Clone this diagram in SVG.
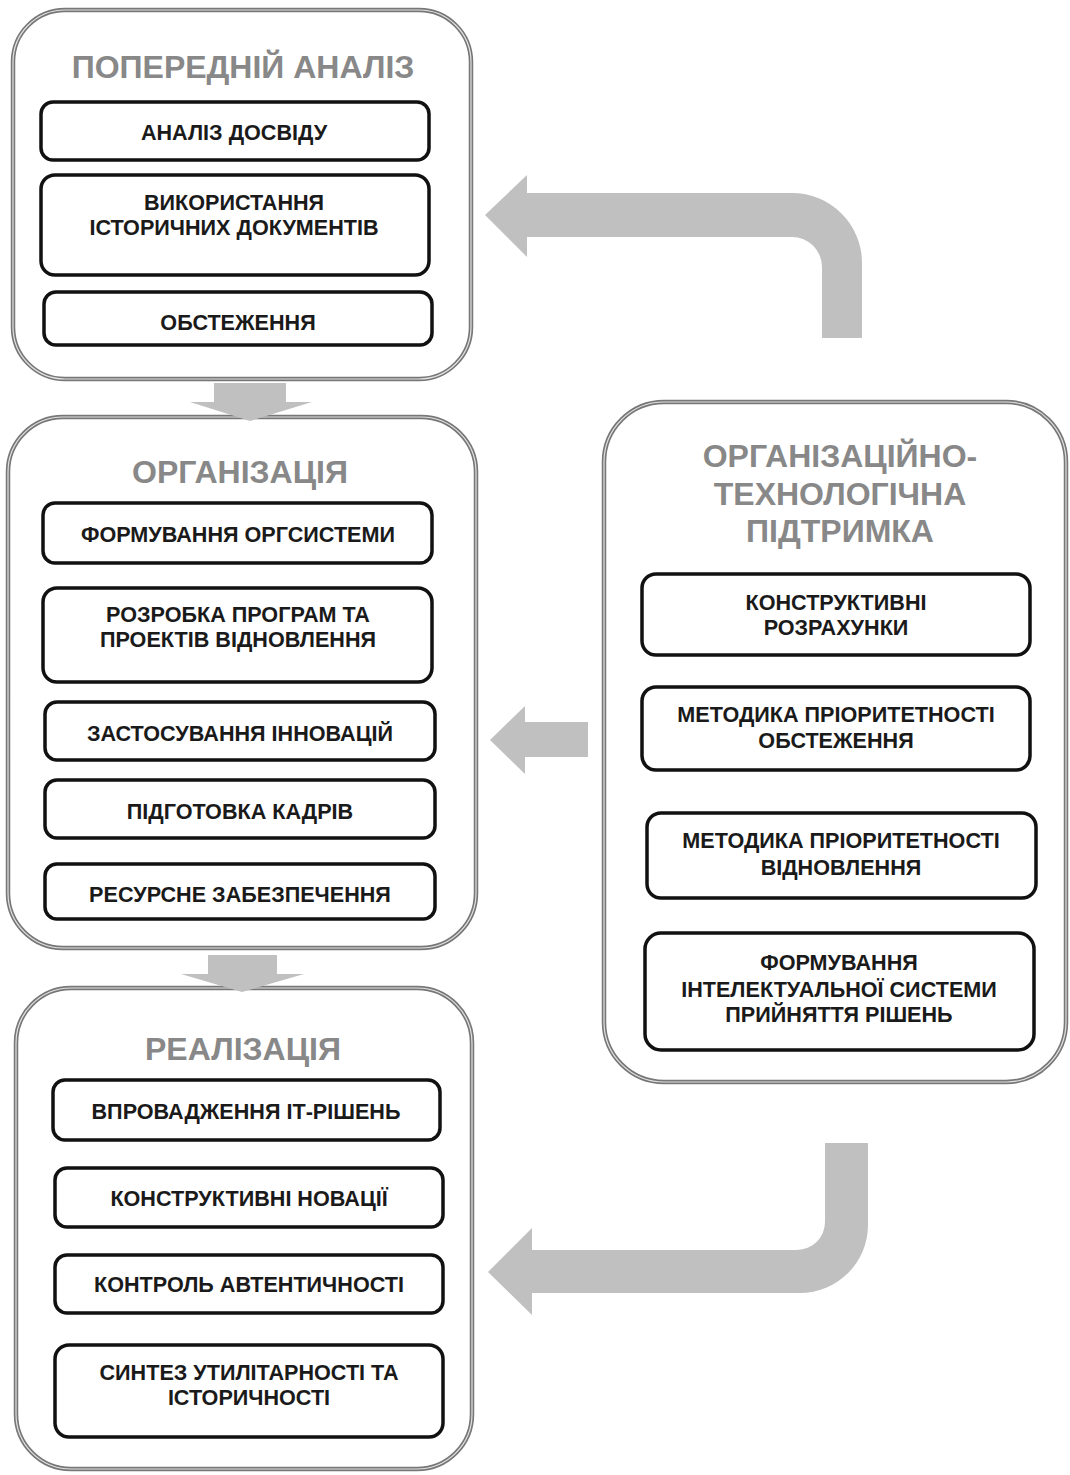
<svg xmlns="http://www.w3.org/2000/svg" width="1070" height="1475" viewBox="0 0 1070 1475">
<style>
.cont{fill:#fff;stroke:#777;stroke-width:4.5}
.contin{fill:none;stroke:#e2e2e2;stroke-width:1.2}
.box{fill:#fff;stroke:#111;stroke-width:3.5}
.title{font-family:"Liberation Sans",Arial,sans-serif;font-weight:700;font-size:32px;fill:#888;text-anchor:middle}
.lbl{font-family:"Liberation Sans",Arial,sans-serif;font-weight:700;font-size:21.6px;fill:#1a1a1a;text-anchor:middle}
.arr{fill:#c0c0c0}
</style>
<rect width="1070" height="1475" fill="#fff"/>

<g id="analysis">
<rect class="cont" x="13" y="10" width="458" height="369" rx="52"/>
<rect class="contin" x="13" y="10" width="458" height="369" rx="52"/>
<text class="title" x="243" y="78">ПОПЕРЕДНІЙ АНАЛІЗ</text>
<g id="a1"><rect class="box" x="41" y="102" width="388" height="58" rx="12"/><text class="lbl" x="234" y="140">АНАЛІЗ ДОСВІДУ</text></g>
<g id="a2"><rect class="box" x="41" y="175" width="388" height="100" rx="14"/><text class="lbl" x="234" y="210">ВИКОРИСТАННЯ<tspan x="234" dy="25">ІСТОРИЧНИХ ДОКУМЕНТІВ</tspan></text></g>
<g id="a3"><rect class="box" x="44" y="292" width="388" height="53" rx="12"/><text class="lbl" x="238" y="330">ОБСТЕЖЕННЯ</text></g>
</g>

<g id="organization">
<rect class="cont" x="8" y="417" width="468" height="531" rx="55"/>
<rect class="contin" x="8" y="417" width="468" height="531" rx="55"/>
<text class="title" x="240" y="483">ОРГАНІЗАЦІЯ</text>
<g id="o1"><rect class="box" x="43" y="503" width="389" height="60" rx="12"/><text class="lbl" x="238" y="542">ФОРМУВАННЯ ОРГСИСТЕМИ</text></g>
<g id="o2"><rect class="box" x="43" y="588" width="389" height="94" rx="14"/><text class="lbl" x="238" y="622">РОЗРОБКА ПРОГРАМ ТА<tspan x="238" dy="25">ПРОЕКТІВ ВІДНОВЛЕННЯ</tspan></text></g>
<g id="o3"><rect class="box" x="45" y="702" width="390" height="58" rx="12"/><text class="lbl" x="240" y="741">ЗАСТОСУВАННЯ ІННОВАЦІЙ</text></g>
<g id="o4"><rect class="box" x="45" y="780" width="390" height="58" rx="12"/><text class="lbl" x="240" y="819">ПІДГОТОВКА КАДРІВ</text></g>
<g id="o5"><rect class="box" x="45" y="864" width="390" height="55" rx="12"/><text class="lbl" x="240" y="902">РЕСУРСНЕ ЗАБЕЗПЕЧЕННЯ</text></g>
</g>

<g id="realization">
<rect class="cont" x="16" y="988" width="456" height="481" rx="55"/>
<rect class="contin" x="16" y="988" width="456" height="481" rx="55"/>
<text class="title" x="243" y="1060">РЕАЛІЗАЦІЯ</text>
<g id="r1"><rect class="box" x="53" y="1080" width="387" height="60" rx="12"/><text class="lbl" x="246" y="1119">ВПРОВАДЖЕННЯ ІТ-РІШЕНЬ</text></g>
<g id="r2"><rect class="box" x="55" y="1168" width="388" height="59" rx="12"/><text class="lbl" x="249" y="1206">КОНСТРУКТИВНІ НОВАЦІЇ</text></g>
<g id="r3"><rect class="box" x="55" y="1255" width="388" height="58" rx="12"/><text class="lbl" x="249" y="1292">КОНТРОЛЬ АВТЕНТИЧНОСТІ</text></g>
<g id="r4"><rect class="box" x="55" y="1345" width="388" height="92" rx="14"/><text class="lbl" x="249" y="1380">СИНТЕЗ УТИЛІТАРНОСТІ ТА<tspan x="249" dy="25">ІСТОРИЧНОСТІ</tspan></text></g>
</g>

<g id="support">
<rect class="cont" x="604" y="402" width="462" height="680" rx="60"/>
<rect class="contin" x="604" y="402" width="462" height="680" rx="60"/>
<text class="title" x="840" y="467">ОРГАНІЗАЦІЙНО-<tspan x="840" dy="38">ТЕХНОЛОГІЧНА</tspan><tspan x="840" dy="37">ПІДТРИМКА</tspan></text>
<g id="s1"><rect class="box" x="642" y="574" width="388" height="81" rx="14"/><text class="lbl" x="836" y="610">КОНСТРУКТИВНІ<tspan x="836" dy="25">РОЗРАХУНКИ</tspan></text></g>
<g id="s2"><rect class="box" x="642" y="687" width="388" height="83" rx="14"/><text class="lbl" x="836" y="722">МЕТОДИКА ПРІОРИТЕТНОСТІ<tspan x="836" dy="26">ОБСТЕЖЕННЯ</tspan></text></g>
<g id="s3"><rect class="box" x="647" y="813" width="389" height="85" rx="14"/><text class="lbl" x="841" y="848">МЕТОДИКА ПРІОРИТЕТНОСТІ<tspan x="841" dy="27">ВІДНОВЛЕННЯ</tspan></text></g>
<g id="s4"><rect class="box" x="645" y="933" width="389" height="117" rx="16"/><text class="lbl" x="839" y="970">ФОРМУВАННЯ<tspan x="839" dy="27">ІНТЕЛЕКТУАЛЬНОЇ СИСТЕМИ</tspan><tspan x="839" dy="25">ПРИЙНЯТТЯ РІШЕНЬ</tspan></text></g>
</g>

<g id="connectors">
<path class="arr" d="M 862 338 L 862 263 A 70 70 0 0 0 792 193 L 527 193 L 527 175 L 485 215 L 527 257 L 527 237 L 792 237 A 30 30 0 0 1 822 267 L 822 338 Z"/>
<path class="arr" d="M 588 722 L 525 722 L 525 706 L 490 740 L 525 774 L 525 757 L 588 757 Z"/>
<path class="arr" d="M 825 1143 L 868 1143 L 868 1225 A 68 68 0 0 1 800 1293 L 532 1293 L 532 1315 L 488 1272 L 532 1228 L 532 1250 L 797 1250 A 28 28 0 0 0 825 1222 Z"/>
<path class="arr" d="M 214 383 L 286 383 L 286 402 L 312 402 L 250 421 L 190 402 L 214 402 Z"/>
<path class="arr" d="M 208 955 L 277 955 L 277 974 L 304 974 L 242 992 L 181 974 L 208 974 Z"/>
</g>
</svg>
